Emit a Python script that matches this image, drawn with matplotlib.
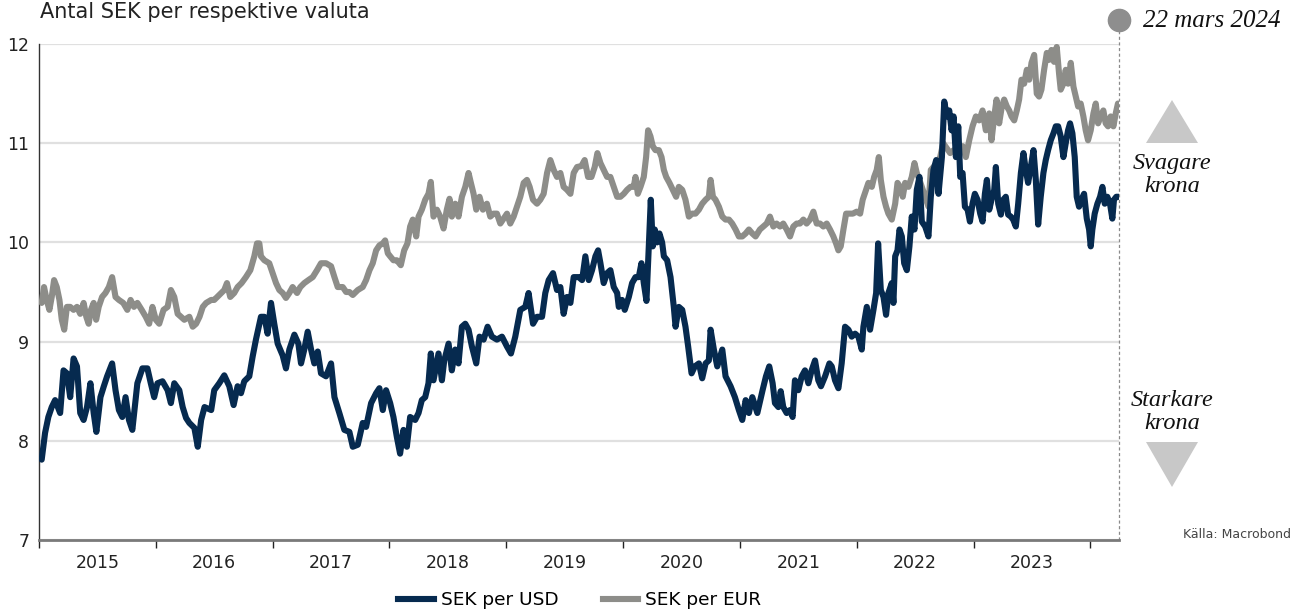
import matplotlib
matplotlib.use("Agg")
import matplotlib.pyplot as plt
from matplotlib.patches import Polygon
from matplotlib.lines import Line2D

plt.rcParams['font.family'] = ['DejaVu Sans']

# decimal year / SEK per USD
usd_t = [2015.023, 2015.052, 2015.080, 2015.109, 2015.138, 2015.181, 2015.210, 2015.239, 2015.267, 2015.296,
         2015.325, 2015.353, 2015.382, 2015.411, 2015.440, 2015.468, 2015.491, 2015.526, 2015.555, 2015.583,
         2015.626, 2015.655, 2015.684, 2015.713, 2015.741, 2015.770, 2015.799, 2015.842, 2015.885, 2015.928,
         2015.957, 2015.986, 2016.014, 2016.057, 2016.101, 2016.129, 2016.158, 2016.201, 2016.230, 2016.259,
         2016.287, 2016.330, 2016.359, 2016.388, 2016.417, 2016.474,
         2016.500, 2016.543, 2016.586, 2016.629, 2016.666, 2016.700, 2016.729, 2016.757, 2016.800, 2016.829,
         2016.857, 2016.900, 2016.929, 2016.957, 2016.986, 2017.014, 2017.043, 2017.086, 2017.114, 2017.143,
         2017.186, 2017.220, 2017.243, 2017.271, 2017.300, 2017.329, 2017.357, 2017.386, 2017.414, 2017.457,
         2017.500, 2017.529, 2017.571, 2017.614, 2017.657, 2017.686, 2017.729, 2017.771, 2017.800, 2017.843,
         2017.886, 2017.914, 2017.943, 2017.971,
         2018.006, 2018.034, 2018.063, 2018.091, 2018.120, 2018.149, 2018.177, 2018.220, 2018.249, 2018.277,
         2018.306, 2018.334, 2018.354, 2018.377, 2018.420, 2018.449, 2018.469, 2018.506, 2018.534, 2018.563,
         2018.591, 2018.620, 2018.649, 2018.677, 2018.706, 2018.743, 2018.771, 2018.806, 2018.840, 2018.877,
         2018.920, 2018.963, 2019.006, 2019.040, 2019.077, 2019.120, 2019.163, 2019.191, 2019.229, 2019.263,
         2019.306, 2019.334, 2019.363, 2019.400, 2019.434, 2019.463, 2019.491, 2019.520, 2019.549, 2019.577,
         2019.620,
         2019.649, 2019.677, 2019.706, 2019.734, 2019.763, 2019.786, 2019.806, 2019.834, 2019.863, 2019.891,
         2019.920, 2019.949, 2019.963, 2019.991, 2020.014, 2020.049, 2020.077, 2020.106, 2020.134, 2020.157,
         2020.177, 2020.200, 2020.220, 2020.237, 2020.254, 2020.271, 2020.291, 2020.311, 2020.334, 2020.349,
         2020.377, 2020.406, 2020.434, 2020.449, 2020.477, 2020.506, 2020.534, 2020.557, 2020.586, 2020.614,
         2020.649, 2020.677, 2020.706, 2020.734, 2020.749, 2020.777, 2020.806, 2020.849, 2020.877, 2020.920,
         2020.957, 2020.991, 2021.020, 2021.049, 2021.077, 2021.106, 2021.149,
         2021.194, 2021.223, 2021.251, 2021.280, 2021.300, 2021.329, 2021.349, 2021.371, 2021.400, 2021.429,
         2021.451, 2021.471, 2021.500, 2021.529, 2021.557, 2021.586, 2021.614, 2021.643, 2021.671, 2021.694,
         2021.729, 2021.766, 2021.786, 2021.814, 2021.843, 2021.871, 2021.900, 2021.929, 2021.957, 2021.986,
         2022.014, 2022.043, 2022.057, 2022.086, 2022.114, 2022.143, 2022.166, 2022.183, 2022.206, 2022.229,
         2022.251, 2022.271, 2022.300, 2022.314, 2022.329, 2022.349, 2022.366, 2022.386, 2022.406, 2022.429,
         2022.451, 2022.471, 2022.494, 2022.514, 2022.537, 2022.557, 2022.586, 2022.614, 2022.634, 2022.657,
         2022.680, 2022.700, 2022.729,
         2022.749, 2022.772, 2022.792, 2022.812, 2022.829, 2022.849, 2022.869, 2022.886, 2022.906, 2022.926,
         2022.949, 2022.969, 2022.991, 2023.011, 2023.034, 2023.057, 2023.077, 2023.097, 2023.114, 2023.134,
         2023.154, 2023.177, 2023.191, 2023.211, 2023.234, 2023.254, 2023.276, 2023.296, 2023.319, 2023.339,
         2023.362, 2023.382, 2023.405, 2023.427, 2023.447, 2023.467, 2023.490, 2023.513, 2023.533, 2023.553,
         2023.575, 2023.598, 2023.618, 2023.638, 2023.661, 2023.684, 2023.704, 2023.724, 2023.746, 2023.769,
         2023.789, 2023.809, 2023.826, 2023.846, 2023.866, 2023.883, 2023.903, 2023.923, 2023.946, 2023.969,
         2023.989, 2024.003, 2024.017, 2024.037, 2024.060, 2024.083, 2024.103, 2024.123, 2024.145, 2024.168,
         2024.188, 2024.202, 2024.222, 2024.240]
usd_v = [7.81, 8.08, 8.24, 8.34, 8.41, 8.28, 8.71, 8.68, 8.44, 8.83,
         8.75, 8.28, 8.21, 8.34, 8.58, 8.28, 8.09, 8.44, 8.55, 8.65,
         8.78, 8.51, 8.31, 8.24, 8.44, 8.21, 8.11, 8.58, 8.73, 8.73,
         8.58, 8.44, 8.58, 8.60, 8.51, 8.38, 8.58, 8.51, 8.34, 8.23,
         8.18, 8.13, 7.94, 8.21, 8.34, 8.31,
         8.51, 8.58, 8.66, 8.55, 8.36, 8.55, 8.48, 8.60, 8.65, 8.85,
         9.02, 9.25, 9.25, 9.08, 9.39, 9.18, 8.98, 8.86, 8.73, 8.92,
         9.07, 8.98, 8.78, 8.92, 9.10, 8.92, 8.78, 8.90, 8.68, 8.65,
         8.78, 8.44, 8.28, 8.11, 8.09, 7.94, 7.96, 8.18, 8.14, 8.38,
         8.48, 8.53, 8.31, 8.51,
         8.38, 8.24, 8.04, 7.87, 8.11, 7.94, 8.24, 8.21, 8.28, 8.41,
         8.44, 8.58, 8.88, 8.61, 8.88, 8.61, 8.81, 8.98, 8.71, 8.92,
         8.78, 9.15, 9.18, 9.12, 8.95, 8.78, 9.05, 9.02, 9.15, 9.05,
         9.02, 9.05, 8.95, 8.88, 9.05, 9.32, 9.35, 9.49, 9.18, 9.25,
         9.25, 9.49, 9.62, 9.69, 9.52, 9.55, 9.28, 9.45, 9.39, 9.65,
         9.65,
         9.62, 9.86, 9.62, 9.72, 9.86, 9.92, 9.79, 9.59, 9.69, 9.72,
         9.55, 9.49, 9.35, 9.42, 9.32, 9.45, 9.59, 9.65, 9.65, 9.79,
         9.59, 9.41, 9.96, 10.43, 9.96, 10.13, 10.00, 10.09, 10.00, 9.86,
         9.82, 9.65, 9.35, 9.15, 9.35, 9.32, 9.15, 8.95, 8.68, 8.75,
         8.78, 8.63, 8.78, 8.81, 9.12, 8.92, 8.75, 8.92, 8.65, 8.55,
         8.44, 8.31, 8.21, 8.41, 8.28, 8.44, 8.28,
         8.51, 8.65, 8.75, 8.58, 8.38, 8.34, 8.50, 8.34, 8.28, 8.31,
         8.24, 8.61, 8.51, 8.65, 8.71, 8.58, 8.71, 8.81, 8.61, 8.55,
         8.65, 8.78, 8.75, 8.61, 8.53, 8.78, 9.15, 9.12, 9.05, 9.08,
         9.05, 8.92, 9.15, 9.35, 9.12, 9.32, 9.49, 9.99, 9.52, 9.45,
         9.27, 9.49, 9.59, 9.39, 9.86, 9.92, 10.13, 10.06, 9.79, 9.72,
         9.96, 10.26, 10.13, 10.53, 10.66, 10.21, 10.16, 10.06, 10.46, 10.73,
         10.83, 10.49, 10.86,
         11.42, 11.27, 11.33, 11.13, 11.27, 10.86, 11.17, 10.66, 10.70, 10.36,
         10.33, 10.21, 10.39, 10.49, 10.43, 10.29, 10.21, 10.49, 10.63, 10.33,
         10.43, 10.53, 10.76, 10.39, 10.28, 10.43, 10.46, 10.28, 10.26, 10.23,
         10.16, 10.39, 10.70, 10.90, 10.73, 10.60, 10.76, 10.93, 10.63, 10.18,
         10.46, 10.70, 10.83, 10.93, 11.03, 11.10, 11.17, 11.17, 11.07, 10.86,
         11.00, 11.13, 11.20, 11.10, 10.86, 10.46, 10.36, 10.43, 10.49, 10.24,
         10.13, 9.96, 10.13, 10.29, 10.39, 10.46, 10.56, 10.39, 10.46, 10.39,
         10.24, 10.43, 10.46, 10.46]

# decimal year / SEK per EUR
eur_t = [2015.023, 2015.043, 2015.066, 2015.089, 2015.109, 2015.129, 2015.152, 2015.175, 2015.195, 2015.216,
         2015.239, 2015.267, 2015.296, 2015.325, 2015.353, 2015.382, 2015.405, 2015.425, 2015.445, 2015.468,
         2015.489, 2015.511, 2015.540, 2015.569, 2015.598, 2015.626, 2015.655, 2015.684, 2015.721, 2015.756,
         2015.784, 2015.813, 2015.842, 2015.879, 2015.914, 2015.943, 2015.971, 2016.000, 2016.029, 2016.066,
         2016.101, 2016.129, 2016.158, 2016.187, 2016.216, 2016.244, 2016.287, 2016.316, 2016.345, 2016.374,
         2016.402, 2016.431, 2016.474,
         2016.500, 2016.543, 2016.586, 2016.609, 2016.637, 2016.671, 2016.700, 2016.734, 2016.771, 2016.809,
         2016.843, 2016.866, 2016.886, 2016.900, 2016.929, 2016.971, 2017.000, 2017.029, 2017.057, 2017.086,
         2017.114, 2017.143, 2017.171, 2017.209, 2017.237, 2017.271, 2017.306, 2017.343, 2017.380, 2017.414,
         2017.457, 2017.500, 2017.529, 2017.557, 2017.600, 2017.629, 2017.657, 2017.686, 2017.729, 2017.771,
         2017.800, 2017.829, 2017.857, 2017.886, 2017.914, 2017.943, 2017.963, 2017.986,
         2018.006, 2018.034, 2018.063, 2018.097, 2018.126, 2018.154, 2018.177, 2018.200, 2018.229, 2018.249,
         2018.277, 2018.306, 2018.334, 2018.354, 2018.377, 2018.406, 2018.434, 2018.463, 2018.491, 2018.514,
         2018.534, 2018.563, 2018.591, 2018.620, 2018.649, 2018.677, 2018.697, 2018.720, 2018.743, 2018.771,
         2018.800, 2018.834, 2018.863, 2018.891, 2018.920, 2018.949, 2019.006, 2019.034, 2019.063, 2019.091,
         2019.120, 2019.149, 2019.177, 2019.200, 2019.229, 2019.263, 2019.291, 2019.320, 2019.349, 2019.377,
         2019.406, 2019.434, 2019.463, 2019.491, 2019.520, 2019.549, 2019.577, 2019.606,
         2019.643, 2019.671, 2019.700, 2019.729, 2019.757, 2019.780, 2019.806, 2019.834, 2019.863, 2019.891,
         2019.920, 2019.949, 2019.977, 2020.006, 2020.034, 2020.063, 2020.091, 2020.106, 2020.126, 2020.149,
         2020.177, 2020.197, 2020.214, 2020.234, 2020.254, 2020.277, 2020.306, 2020.329, 2020.349, 2020.369,
         2020.397, 2020.426, 2020.454, 2020.477, 2020.506, 2020.534, 2020.563, 2020.591, 2020.620, 2020.649,
         2020.677, 2020.706, 2020.734, 2020.749, 2020.769, 2020.791, 2020.820, 2020.849, 2020.877, 2020.906,
         2020.934, 2020.963, 2020.991, 2021.020, 2021.049, 2021.077, 2021.106, 2021.134,
         2021.171, 2021.200, 2021.229, 2021.257, 2021.286, 2021.314, 2021.343, 2021.371, 2021.400, 2021.429,
         2021.457, 2021.486, 2021.514, 2021.543, 2021.571, 2021.600, 2021.629, 2021.657, 2021.686, 2021.714,
         2021.743, 2021.771, 2021.800, 2021.823, 2021.843, 2021.863, 2021.886, 2021.909, 2021.937, 2021.966,
         2022.000, 2022.029, 2022.051, 2022.080, 2022.100, 2022.129, 2022.149, 2022.171, 2022.189, 2022.206,
         2022.229, 2022.251, 2022.271, 2022.300, 2022.329, 2022.349, 2022.371, 2022.394, 2022.414, 2022.443,
         2022.471, 2022.494, 2022.514, 2022.537, 2022.557, 2022.586, 2022.614, 2022.634, 2022.657, 2022.686,
         2022.714, 2022.740, 2022.770, 2022.800, 2022.830, 2022.860,
         2022.906, 2022.934, 2022.963, 2022.991, 2023.020, 2023.048, 2023.077, 2023.105, 2023.134, 2023.154,
         2023.177, 2023.197, 2023.219, 2023.242, 2023.262, 2023.285, 2023.305, 2023.325, 2023.348, 2023.370,
         2023.390, 2023.410, 2023.433, 2023.456, 2023.476, 2023.496, 2023.519, 2023.541, 2023.561, 2023.581,
         2023.604, 2023.627, 2023.647, 2023.667, 2023.689, 2023.712, 2023.732, 2023.746, 2023.769, 2023.789,
         2023.809, 2023.832, 2023.855, 2023.875, 2023.895, 2023.917, 2023.940, 2023.960, 2023.980, 2024.003,
         2024.026, 2024.046, 2024.066, 2024.088, 2024.111, 2024.131, 2024.151, 2024.174, 2024.197, 2024.217,
         2024.236, 2024.243]
eur_v = [9.39, 9.55, 9.42, 9.32, 9.45, 9.62, 9.55, 9.42, 9.22, 9.12,
         9.35, 9.35, 9.32, 9.35, 9.28, 9.39, 9.25, 9.18, 9.32, 9.39,
         9.22, 9.35, 9.45, 9.49, 9.55, 9.65, 9.45, 9.42, 9.39, 9.32,
         9.42, 9.35, 9.39, 9.32, 9.25, 9.18, 9.35, 9.22, 9.18, 9.32,
         9.35, 9.52, 9.45, 9.28, 9.25, 9.22, 9.25, 9.15, 9.18, 9.25,
         9.35, 9.39, 9.42,
         9.42, 9.47, 9.52, 9.59, 9.45, 9.49, 9.55, 9.59, 9.65, 9.72,
         9.86, 9.99, 9.99, 9.86, 9.82, 9.79, 9.69, 9.59, 9.52, 9.49,
         9.44, 9.49, 9.55, 9.49, 9.55, 9.59, 9.62, 9.65, 9.72, 9.79,
         9.79, 9.76, 9.65, 9.55, 9.55, 9.50, 9.50, 9.47, 9.52, 9.55,
         9.62, 9.72, 9.79, 9.92, 9.97, 9.99, 10.02, 9.89,
         9.86, 9.82, 9.82, 9.77, 9.92, 9.99, 10.16, 10.23, 10.06, 10.26,
         10.33, 10.43, 10.49, 10.61, 10.26, 10.33, 10.26, 10.14, 10.33, 10.44,
         10.26, 10.39, 10.26, 10.46, 10.56, 10.70, 10.60, 10.49, 10.33, 10.46,
         10.33, 10.39, 10.26, 10.29, 10.29, 10.19, 10.29, 10.19, 10.26, 10.36,
         10.46, 10.60, 10.63, 10.56, 10.43, 10.39, 10.43, 10.49, 10.70, 10.83,
         10.73, 10.66, 10.70, 10.56, 10.53, 10.49, 10.70, 10.76,
         10.77, 10.83, 10.66, 10.66, 10.76, 10.90, 10.80, 10.73, 10.66, 10.66,
         10.56, 10.46, 10.46, 10.49, 10.53, 10.56, 10.56, 10.66, 10.49, 10.56,
         10.66, 10.86, 11.13, 11.07, 10.97, 10.93, 10.93, 10.86, 10.73, 10.66,
         10.60, 10.53, 10.46, 10.56, 10.53, 10.43, 10.26, 10.29, 10.29, 10.33,
         10.39, 10.43, 10.46, 10.63, 10.46, 10.43, 10.36, 10.26, 10.23, 10.23,
         10.19, 10.13, 10.06, 10.06, 10.09, 10.13, 10.09, 10.06,
         10.13, 10.16, 10.19, 10.26, 10.16, 10.19, 10.16, 10.19, 10.13, 10.06,
         10.16, 10.19, 10.19, 10.23, 10.19, 10.23, 10.31, 10.19, 10.19, 10.16,
         10.19, 10.13, 10.06, 9.99, 9.92, 9.96, 10.13, 10.29, 10.29, 10.29,
         10.31, 10.29, 10.43, 10.53, 10.60, 10.56, 10.66, 10.73, 10.86, 10.63,
         10.46, 10.36, 10.29, 10.23, 10.39, 10.60, 10.56, 10.46, 10.60, 10.56,
         10.66, 10.80, 10.70, 10.63, 10.56, 10.46, 10.36, 10.73, 10.76, 10.80,
         10.86, 11.00, 10.95, 10.90, 10.93, 10.88,
         10.97, 10.86, 11.03, 11.17, 11.27, 11.23, 11.33, 11.13, 11.30, 11.03,
         11.27, 11.44, 11.20, 11.37, 11.44, 11.37, 11.33, 11.27, 11.23, 11.33,
         11.44, 11.64, 11.60, 11.74, 11.64, 11.81, 11.89, 11.50, 11.47, 11.54,
         11.74, 11.91, 11.84, 11.94, 11.82, 11.97, 11.70, 11.54, 11.60, 11.74,
         11.60, 11.81, 11.57, 11.47, 11.37, 11.40, 11.27, 11.13, 11.03, 11.13,
         11.30, 11.40, 11.20, 11.27, 11.33, 11.20, 11.17, 11.27, 11.17, 11.30,
         11.40, 11.38]

years = list(range(2015, 2024))
y_ticks = [7, 8, 9, 10, 11, 12]
x_end = 2024.245   # 22 mars 2024

navy = '#062a4f'
grey = '#8d8d89'

fig = plt.figure(figsize=(12.98, 6.10), dpi=100)
ax = fig.add_axes([39/1298, 1 - 540/610, (1119 - 39)/1298, (540 - 44)/610])

ax.plot(eur_t, eur_v, color=grey, lw=4.4, solid_joinstyle='round', solid_capstyle='round', zorder=3)
ax.plot(usd_t, usd_v, color=navy, lw=4.4, solid_joinstyle='round', solid_capstyle='round', zorder=4)

ax.set_xlim(2015.0, x_end)
ax.set_ylim(7, 12)
ax.set_yticks(y_ticks)
ax.set_yticklabels([str(v) for v in y_ticks], fontsize=12.5, color='#222222')
ax.tick_params(axis='y', length=0, pad=7)
ax.grid(axis='y', color='#e0e0e0', lw=1.6, zorder=0)

# year boundaries as ticks, labels centred in between
ax.set_xticks(list(range(2015, 2025)))
ax.set_xticklabels([])
ax.tick_params(axis='x', which='major', direction='out', length=6, width=1, color='#222222')
ax.set_xticks([y + 0.5 for y in years], minor=True)
ax.set_xticklabels([str(y) for y in years], minor=True, fontsize=12.5, color='#222222')
ax.tick_params(axis='x', which='minor', length=0, pad=10)

for s in ['top', 'right']:
    ax.spines[s].set_visible(False)
ax.spines['left'].set_color('#333333')
ax.spines['left'].set_linewidth(1.0)
ax.spines['bottom'].set_color('#7a7a7a')
ax.spines['bottom'].set_linewidth(2.0)

# end-date marker
ax.plot([x_end, x_end], [7, 12.22], ls=(0, (2.5, 2)), lw=0.9, color='#8a8a8a', clip_on=False, zorder=2)
ax.plot([x_end], [12.24], 'o', ms=16, color='#8e8e8e', clip_on=False, zorder=5)
fig.text(1143/1298, 1 - 21/610, '22 mars 2024', ha='left', va='center', fontsize=18,
         family='Liberation Serif', style='italic', color='#111111')

fig.text(40/1298, 1 - 18/610, 'Antal SEK per respektive valuta', ha='left', va='baseline',
         fontsize=15, color='#222222')

# stronger / weaker krona arrows
tri_col = '#c8c8c8'
fig.patches.append(Polygon([(1146/1298, 1 - 143/610), (1198/1298, 1 - 143/610), (1172/1298, 1 - 100/610)],
                           closed=True, transform=fig.transFigure, color=tri_col, lw=0))
fig.patches.append(Polygon([(1146/1298, 1 - 442/610), (1198/1298, 1 - 442/610), (1172/1298, 1 - 487/610)],
                           closed=True, transform=fig.transFigure, color=tri_col, lw=0))
fig.text(1172/1298, 1 - 175/610, 'Svagare\nkrona', ha='center', va='center', fontsize=17.5,
         family='Liberation Serif', style='italic', linespacing=1.1, color='#111111')
fig.text(1172/1298, 1 - 412/610, 'Starkare\nkrona', ha='center', va='center', fontsize=17.5,
         family='Liberation Serif', style='italic', linespacing=1.1, color='#111111')

fig.text(1291/1298, 1 - 535/610, 'Källa: Macrobond', ha='right', va='center', fontsize=9, color='#444444')

handles = [Line2D([], [], color=navy, lw=4.4), Line2D([], [], color=grey, lw=4.4)]
fig.legend(handles, ['SEK per USD', 'SEK per EUR'], loc='center', bbox_to_anchor=(580/1298, 1 - 600/610),
           ncol=2, frameon=False, fontsize=13.3, handlelength=1.9, handletextpad=0.4, columnspacing=2.4,
           borderpad=0)

fig.savefig('out.png', dpi=100)
